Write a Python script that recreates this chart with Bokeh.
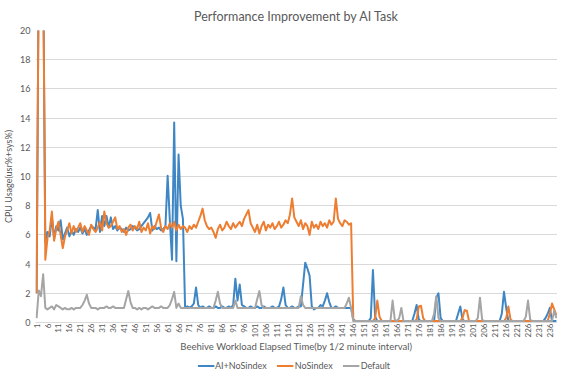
from math import pi
from bokeh.plotting import figure
from bokeh.layouts import column
from bokeh.models import Range1d, FixedTicker, Legend, LegendItem, ColumnDataSource
from bokeh.embed import file_html
from bokeh.resources import INLINE

# ---- data ----
categories = list(range(1, 240))
tick_labels = [str(i) for i in range(1, 237, 5)]

ai_nosindex = [
    2.0, 25, 26, 25, 5.5, 6.2, 5.9, 7.2, 5.8, 6.6,
    6.3, 7.0, 5.7, 6.1, 6.5, 5.9, 6.3, 6.0, 6.4, 6.2,
    6.5, 6.1, 6.4, 6.0, 6.3, 6.6, 6.5, 6.4, 7.7, 6.2,
    7.3, 6.6, 7.3, 6.5, 7.2, 6.4, 6.6, 6.3, 6.5, 6.4,
    6.2, 6.5, 6.3, 6.4, 6.6, 6.5, 6.3, 6.4, 6.6, 6.8,
    7.0, 7.2, 7.5, 6.3, 6.6, 6.4, 6.5, 6.3, 6.4, 6.6,
    10.05, 7.0, 4.3, 13.7, 4.2, 11.5, 8.0, 7.1, 1.0, 1.1,
    1.0, 1.1, 1.3, 2.4, 1.2, 1.0, 1.1, 1.0, 1.0, 1.1,
    1.0, 1.0, 1.1, 1.0, 1.0, 1.1, 1.0, 1.0, 1.1, 1.0,
    1.2, 3.0, 1.5, 2.6, 1.2, 1.1, 1.0, 1.0, 1.1, 1.0,
    1.0, 1.1, 1.0, 1.0, 1.1, 1.0, 1.0, 1.0, 1.1, 1.0,
    1.0, 1.1, 1.6, 2.4, 1.2, 1.0, 1.0, 1.1, 1.0, 1.0,
    1.1, 1.1, 2.6, 4.1, 3.7, 3.2, 1.1, 0.9, 1.0, 1.0,
    1.2, 1.1, 1.5, 2.0, 1.4, 1.0, 1.0, 1.1, 1.0, 1.0,
    1.0, 1.0, 1.0, 1.0, 1.0, 0.2, 0.1, 0.1, 0.1, 0.1,
    0.1, 0.1, 0.1, 0.3, 3.6, 0.4, 0.1, 0.1, 0.1, 0.1,
    0.1, 0.1, 0.1, 0.1, 0.1, 0.1, 0.1, 0.1, 0.1, 0.1,
    0.1, 0.1, 0.1, 0.6, 1.2, 0.2, 0.1, 0.1, 0.1, 0.1,
    0.1, 0.1, 0.1, 1.7, 2.0, 0.3, 0.1, 0.1, 0.1, 0.1,
    0.1, 0.1, 0.1, 0.6, 1.1, 0.2, 0.1, 0.1, 0.1, 0.1,
    0.1, 0.1, 0.1, 0.1, 0.1, 0.1, 0.1, 0.1, 0.1, 0.1,
    0.1, 0.1, 0.1, 0.6, 2.1, 1.0, 0.1, 0.1, 0.1, 0.1,
    0.1, 0.1, 0.1, 0.1, 0.1, 0.1, 0.1, 0.1, 0.1, 0.1,
    0.1, 0.1, 0.1, 0.3, 0.6, 1.0, 0.1, 0.1, 0.1,
]

nosindex = [
    2.0, 25, 26, 25, 4.3, 5.8, 6.3, 7.6, 5.6, 6.4,
    6.9, 6.0, 5.1, 5.9, 6.3, 6.8, 6.1, 6.6, 6.2, 6.5,
    6.8, 6.2, 6.6, 6.3, 6.0, 6.7, 6.4, 6.2, 6.5, 6.9,
    6.3, 7.6, 6.8, 6.5, 6.6, 6.9, 7.2, 6.4, 6.6, 6.2,
    6.4, 6.0, 6.5, 6.7, 6.3, 6.6, 6.4, 6.9, 6.2, 6.5,
    6.3, 6.8, 6.1, 6.6, 6.4, 6.9, 7.4, 6.5, 6.2, 6.6,
    6.4, 6.8, 6.5, 6.9, 6.3, 6.7, 6.4, 6.6, 6.5, 6.2,
    6.6, 6.4, 6.7, 6.5, 6.9, 7.3, 7.8, 7.0, 6.6, 6.4,
    6.5, 6.2, 5.8, 6.4, 6.7, 6.3, 6.5, 6.9, 6.6, 6.4,
    6.8, 6.5, 6.7, 6.9, 6.6, 7.1, 7.4, 7.7, 6.8, 6.5,
    6.2, 6.7, 6.1, 6.6, 6.9, 6.3, 6.7, 6.5, 6.8, 6.4,
    6.6, 6.9, 6.5, 6.7, 7.0, 6.8, 7.4, 8.5, 7.2, 6.9,
    6.6, 7.0, 6.4, 6.8, 6.6, 6.0, 6.9, 6.5, 6.7, 6.4,
    6.9, 6.6, 6.8, 6.5, 7.0, 6.7, 6.9, 8.5, 7.1, 6.8,
    6.6, 7.0, 6.9, 6.7, 6.8, 0.2, 0.1, 0.1, 0.1, 0.1,
    0.1, 0.1, 0.1, 0.1, 0.1, 0.3, 1.5, 0.4, 0.1, 0.1,
    0.1, 0.1, 0.1, 0.1, 0.1, 0.1, 0.1, 0.1, 0.1, 0.1,
    0.1, 0.1, 0.1, 0.1, 0.2, 1.1, 1.15, 0.3, 0.1, 0.1,
    0.1, 0.1, 0.1, 0.1, 0.1, 0.1, 0.1, 0.1, 0.1, 0.1,
    0.1, 0.1, 0.1, 0.1, 0.1, 0.3, 0.85, 0.8, 0.1, 0.1,
    0.1, 0.1, 0.1, 0.1, 0.1, 0.1, 0.1, 0.1, 0.1, 0.1,
    0.1, 0.1, 0.1, 0.1, 0.1, 0.3, 1.1, 0.2, 0.1, 0.1,
    0.1, 0.1, 0.1, 0.1, 0.1, 0.1, 0.1, 0.1, 0.1, 0.1,
    0.1, 0.1, 0.1, 0.1, 0.1, 0.6, 1.3, 0.9, 0.5,
]

default = [
    0.3, 2.2, 1.8, 3.3, 1.0, 0.9, 1.0, 1.1, 0.9, 1.2,
    1.1, 1.0, 0.9, 1.0, 0.9, 0.9, 1.0, 0.9, 1.0, 1.0,
    1.0, 1.2, 1.5, 1.9, 1.3, 1.0, 1.0, 1.0, 0.9, 1.0,
    1.0, 1.0, 1.1, 1.0, 1.0, 1.1, 1.0, 1.0, 1.0, 1.0,
    1.0, 1.6, 2.15, 1.4, 1.0, 1.0, 0.9, 1.0, 0.9, 1.0,
    1.0, 0.9, 1.0, 1.1, 1.0, 1.0, 1.0, 1.1, 1.0, 1.0,
    1.0, 1.2, 1.6, 2.1, 1.0, 1.3, 1.0, 1.0, 1.0, 1.0,
    1.0, 1.0, 1.0, 1.0, 1.0, 1.0, 1.0, 1.0, 1.0, 1.0,
    1.0, 1.0, 1.5, 2.1, 1.3, 1.0, 1.0, 1.0, 1.0, 1.0,
    1.0, 1.5, 1.0, 1.0, 1.0, 1.0, 1.0, 1.0, 1.0, 1.0,
    1.0, 1.6, 2.15, 1.2, 1.0, 1.0, 1.0, 1.0, 1.0, 1.0,
    1.0, 1.0, 1.0, 1.0, 1.0, 1.0, 1.0, 1.0, 1.0, 1.0,
    1.0, 1.8, 1.2, 1.0, 1.0, 1.0, 1.0, 1.0, 1.0, 1.0,
    1.0, 1.0, 1.0, 1.0, 1.0, 1.0, 1.0, 1.0, 1.0, 1.0,
    1.0, 1.0, 1.3, 1.7, 1.0, 0.1, 0.1, 0.1, 0.1, 0.1,
    0.1, 0.1, 0.1, 0.1, 0.1, 0.1, 0.1, 0.1, 0.1, 0.1,
    0.1, 0.1, 0.1, 1.5, 0.2, 0.1, 0.3, 1.0, 0.1, 0.1,
    0.1, 0.1, 0.1, 0.1, 0.1, 0.1, 0.1, 0.1, 0.1, 0.1,
    0.1, 0.1, 0.6, 1.8, 0.3, 0.1, 0.1, 0.1, 0.1, 0.1,
    0.1, 0.1, 0.1, 0.1, 0.1, 0.1, 0.1, 0.1, 0.1, 0.1,
    0.1, 0.1, 0.3, 1.7, 0.2, 0.1, 0.1, 0.1, 0.1, 0.1,
    0.1, 0.1, 0.1, 0.1, 0.1, 0.1, 0.1, 0.1, 0.1, 0.1,
    0.1, 0.1, 0.1, 0.1, 0.4, 1.5, 0.2, 0.1, 0.1, 0.1,
    0.1, 0.1, 0.1, 0.1, 0.1, 0.1, 0.1, 0.8, 0.3,
]

series_names = ["AI+NoSindex", "NoSindex", "Default"]
series_colors = ["#3f87c4", "#ed7d31", "#a5a5a5"]

FONT = "Lato"
TEXT = "#595959"

p = figure(frame_width=522, frame_height=292, output_backend="svg", toolbar_location=None,
           x_range=Range1d(0.5, 239.5), y_range=Range1d(0, 20),
           title="Performance Improvement by AI Task",
           min_border_left=28, min_border_right=0, min_border_top=23, min_border_bottom=0)

p.title.align = "center"
p.title.text_font = FONT
p.title.text_font_size = "12.5px"
p.title.text_font_style = "normal"
p.title.text_color = TEXT
p.title.standoff = 13

src = ColumnDataSource(dict(x=categories, a=ai_nosindex, n=nosindex, d=default))
for col, color in zip(["a", "n", "d"], series_colors):
    p.line("x", col, source=src, line_color=color, line_width=2, line_join="round")

# axes
p.yaxis.ticker = FixedTicker(ticks=list(range(0, 21, 2)))
p.yaxis.axis_label = "CPU Usage(usr%+sys%)"
p.yaxis.axis_line_color = None
p.yaxis.major_tick_line_color = None
p.yaxis.minor_tick_line_color = None
p.yaxis.major_tick_out = 0
p.yaxis.major_tick_in = 0
p.yaxis.minor_tick_out = 0
p.yaxis.major_label_text_font = FONT
p.yaxis.major_label_text_font_size = "9px"
p.yaxis.major_label_text_color = TEXT
p.yaxis.axis_label_text_font = FONT
p.yaxis.axis_label_text_font_size = "9px"
p.yaxis.axis_label_text_font_style = "normal"
p.yaxis.axis_label_text_color = TEXT
p.yaxis.major_label_standoff = 5
p.yaxis.axis_label_standoff = 3

tick_pos = [int(t) for t in tick_labels]
p.xaxis.ticker = FixedTicker(ticks=tick_pos)
p.xaxis.major_label_overrides = {t: s for t, s in zip(tick_pos, tick_labels)}
p.xaxis.major_label_orientation = pi / 2
p.xaxis.axis_label = "Beehive Workload Elapsed Time(by 1/2 minute interval)"
p.xaxis.axis_line_color = "#d9d9d9"
p.xaxis.major_tick_line_color = None
p.xaxis.minor_tick_line_color = None
p.xaxis.major_tick_out = 0
p.xaxis.major_tick_in = 0
p.xaxis.minor_tick_out = 0
p.xaxis.major_label_text_font = FONT
p.xaxis.major_label_text_font_size = "8px"
p.xaxis.major_label_text_color = TEXT
p.xaxis.axis_label_text_font = FONT
p.xaxis.axis_label_text_font_size = "9.5px"
p.xaxis.axis_label_text_font_style = "normal"
p.xaxis.axis_label_text_color = TEXT
p.xaxis.major_label_standoff = 1
p.xaxis.axis_label_standoff = 1

p.xgrid.grid_line_color = None
p.ygrid.grid_line_color = "#d9d9d9"
p.outline_line_color = None

# legend strip below the chart: same series, drawn outside this strip's view,
# so only the legend swatches and labels show
lg = figure(width=552, height=20, output_backend="svg", toolbar_location=None,
            x_range=Range1d(-20, -10), y_range=Range1d(0, 1),
            x_axis_location=None, y_axis_location=None,
            min_border_left=0, min_border_right=0, min_border_top=0, min_border_bottom=0)
lg.xgrid.grid_line_color = None
lg.ygrid.grid_line_color = None
lg.outline_line_color = None
swatches = [lg.line("x", col, source=src, line_color=c, line_width=2)
            for col, c in zip(["a", "n", "d"], series_colors)]
legend = Legend(items=[LegendItem(label=n, renderers=[r]) for n, r in zip(series_names, swatches)],
                orientation="horizontal", location="center")
legend.label_text_font = FONT
legend.label_text_font_size = "9px"
legend.label_text_color = TEXT
legend.label_height = 10
legend.glyph_width = 17
legend.glyph_height = 10
legend.label_standoff = 1
legend.spacing = 10
legend.padding = 1
legend.margin = 0
legend.border_line_color = None
legend.background_fill_alpha = 0
lg.add_layout(legend, "center")

layout = column(p, lg, spacing=0)
open("out.html", "w").write(file_html(layout, INLINE))
